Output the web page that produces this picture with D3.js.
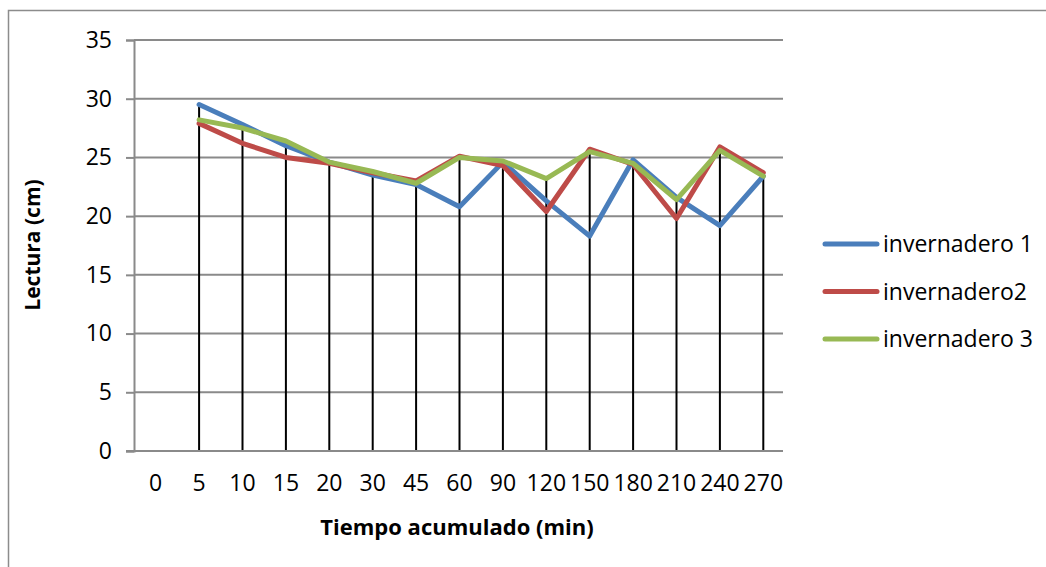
<!DOCTYPE html>
<html><head><meta charset="utf-8">
<script src="https://cdn.jsdelivr.net/npm/d3@7"></script>
<style>body{margin:0;background:#fff}svg{display:block}text{font-family:"Open Sans",sans-serif;}</style>
</head><body><svg id="c" width="1046" height="567"></svg>
<script>
const categories = ["0","5","10","15","20","30","45","60","90","120","150","180","210","240","270"];
const inv1 = [null,29.5,27.8,26.0,24.6,23.5,22.7,20.8,24.6,21.3,18.3,24.8,21.6,19.2,23.4];
const inv2 = [null,27.9,26.2,25.0,24.5,23.7,23.0,25.1,24.3,20.4,25.7,24.4,19.8,25.9,23.7];
const inv3 = [null,28.2,27.5,26.4,24.6,23.8,22.8,25.0,24.7,23.2,25.5,24.5,21.4,25.6,23.4];
const seriesNames = ["invernadero 1","invernadero2","invernadero 3"];
const yTicks = [0,5,10,15,20,25,30,35];

const series = [inv1, inv2, inv3];
const colors = ["#4a7ebb","#be4b48","#98b954"];
const svg = d3.select("#c");
const L = 134, R = 785, T = 40, B = 451;
const x = d3.scaleBand().domain(categories).range([L, R]);
const y = d3.scaleLinear().domain([0,35]).range([B, T]);
const cx = c => x(c) + x.bandwidth()/2;

// outer border (partially visible)
svg.append("path").attr("d", `M8.5,567 V10.5 H1046`).attr("fill","none").attr("stroke","#8c8c8c").attr("stroke-width",1.5);

// gridlines
svg.append("g").selectAll("line").data(yTicks.filter(d=>d>0)).join("line")
  .attr("x1", L).attr("x2", 783).attr("y1", d=>y(d)).attr("y2", d=>y(d))
  .attr("stroke","#8a8a8a").attr("stroke-width",2);

// y axis
const yAxis = svg.append("g").attr("transform",`translate(${L},0)`)
  .call(d3.axisLeft(y).tickValues(yTicks).tickSize(8).tickPadding(14));
yAxis.select(".domain").attr("stroke","#8a8a8a").attr("stroke-width",2);
yAxis.selectAll(".tick line").attr("stroke","#8a8a8a").attr("stroke-width",2);
yAxis.selectAll("text").attr("font-size",23).attr("font-family","Open Sans").attr("fill","#000");

// drop lines
svg.append("g").selectAll("line").data(categories.filter((c,i)=>inv1[i]!=null)).join("line")
  .attr("x1", c=>cx(c)).attr("x2", c=>cx(c))
  .attr("y1", c=>{const i=categories.indexOf(c); return y(d3.max(series, s=>s[i]));})
  .attr("y2", B).attr("stroke","#000").attr("stroke-width",2);

// x axis
const xAxis = svg.append("g").attr("transform",`translate(0,${B})`)
  .call(d3.axisBottom(x).tickSize(0).tickPadding(24));
xAxis.select(".domain").attr("d",`M${126},0H${783}`).attr("stroke","#8a8a8a").attr("stroke-width",2);
xAxis.selectAll("text").attr("font-size",23).attr("font-family","Open Sans").attr("fill","#000");

// lines
const line = d3.line().defined(d=>d.v!=null).x(d=>cx(d.c)).y(d=>y(d.v));
series.forEach((s,k)=>{
  svg.append("path").datum(categories.map((c,i)=>({c, v:s[i]})))
    .attr("d", line).attr("fill","none").attr("stroke",colors[k])
    .attr("stroke-width",5).attr("stroke-linejoin","round").attr("stroke-linecap","round");
});

// axis titles
svg.append("text").attr("x",457).attr("y",535).attr("text-anchor","middle")
  .attr("font-size",22).attr("font-weight","bold").text("Tiempo acumulado (min)");
svg.append("text").attr("transform","translate(40,245) rotate(-90)").attr("text-anchor","middle")
  .attr("font-size",21).attr("font-weight","bold").text("Lectura (cm)");

// legend
const lg = svg.append("g");
seriesNames.forEach((n,k)=>{
  const yy = 244 + k*47.5;
  lg.append("line").attr("x1",825).attr("x2",877).attr("y1",yy).attr("y2",yy)
    .attr("stroke",colors[k]).attr("stroke-width",5).attr("stroke-linecap","round");
  lg.append("text").attr("x",883).attr("y",yy).attr("dy","0.35em").attr("font-size",23).text(n);
});
</script></body></html>
